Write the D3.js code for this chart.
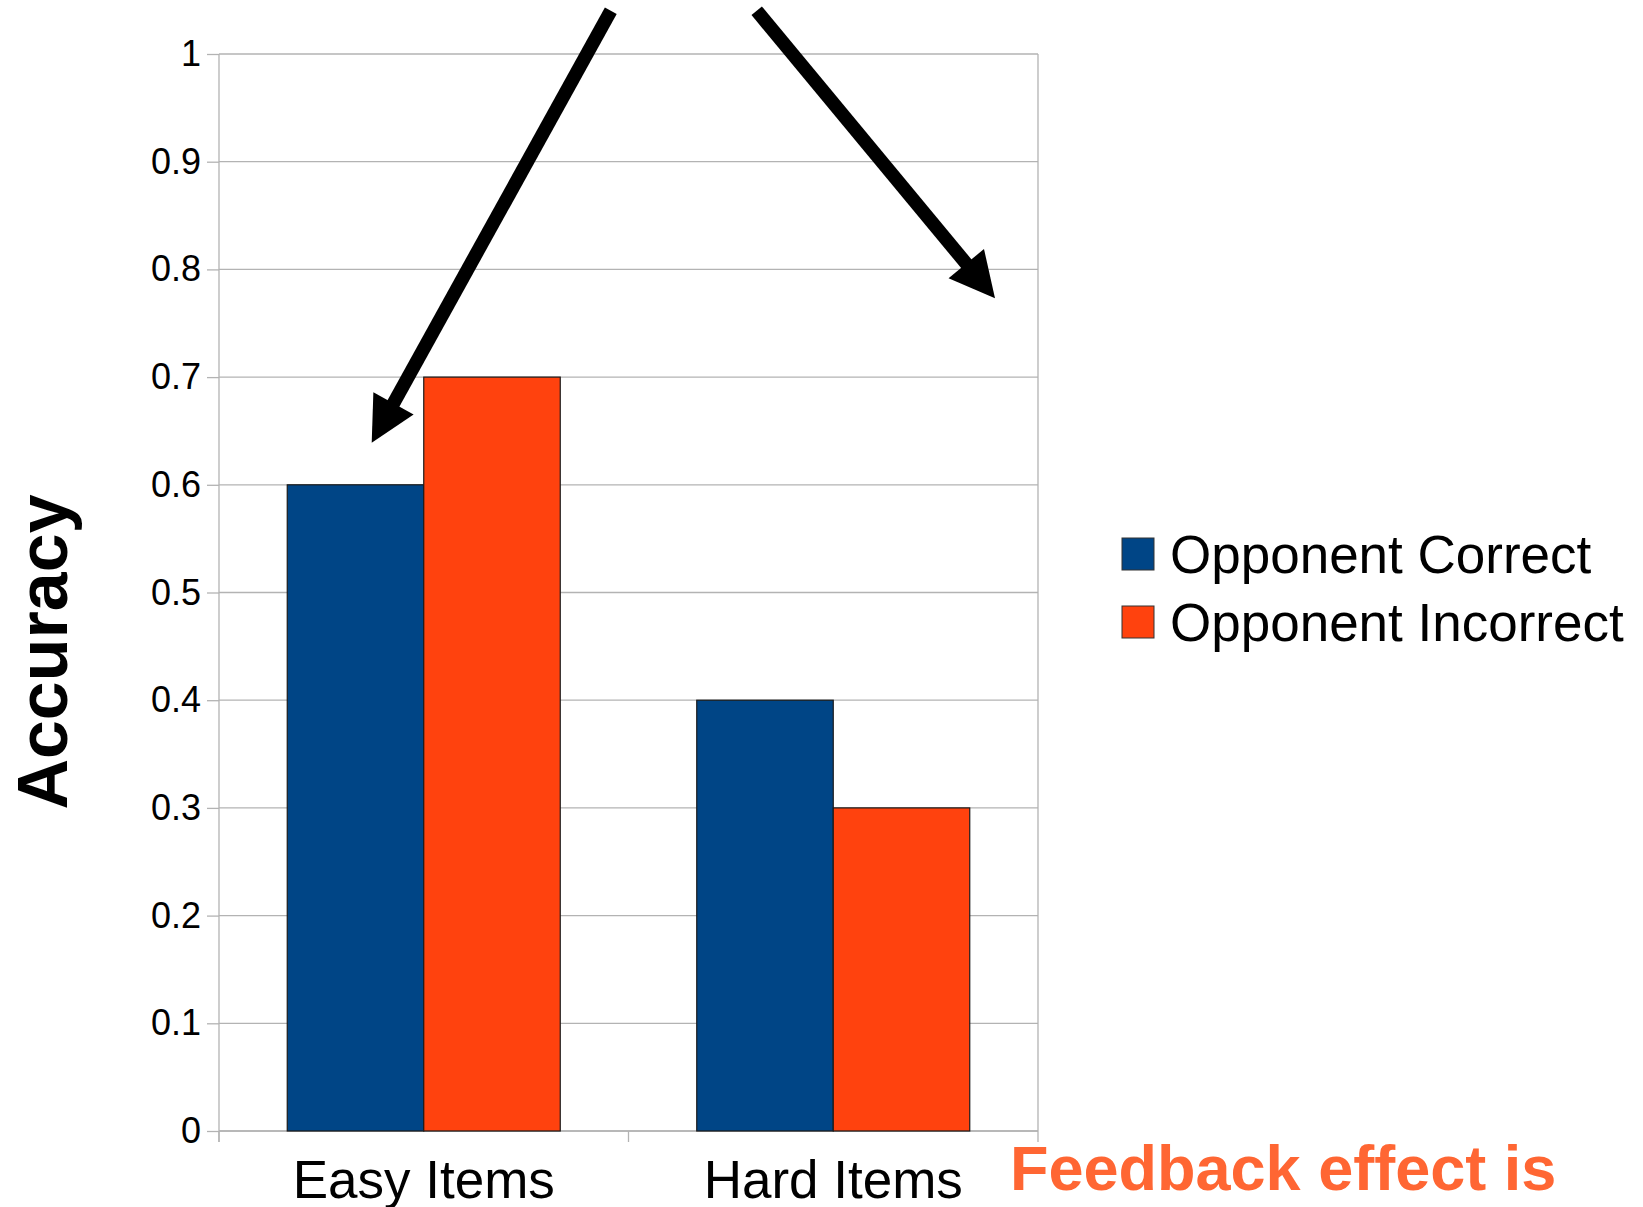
<!DOCTYPE html>
<html>
<head>
<meta charset="utf-8">
<script src="https://cdn.jsdelivr.net/npm/d3@7"></script>
<style>
  html, body { margin: 0; padding: 0; background: #fff; }
  svg { display: block; font-family: "Liberation Sans", Arial, sans-serif; }
</style>
</head>
<body>
<svg id="chart" width="1643" height="1207"></svg>
<script>
// Accuracy by item difficulty and opponent feedback
const categories = ["Easy Items", "Hard Items"];
const seriesNames = ["Opponent Correct", "Opponent Incorrect"];
const opponentCorrect = [0.6, 0.4];
const opponentIncorrect = [0.7, 0.3];
const yTicks = [0, 0.1, 0.2, 0.3, 0.4, 0.5, 0.6, 0.7, 0.8, 0.9, 1];
const colors = ["#004586", "#ff420e"];

const seriesValues = [opponentCorrect, opponentIncorrect];
const rows = categories.map((c, i) => ({
  category: c,
  values: seriesNames.map((s, j) => ({ series: s, value: seriesValues[j][i], idx: j }))
}));

const svg = d3.select("#chart");
const plot = { left: 219, right: 1038, top: 54, bottom: 1131 };

const x = d3.scaleBand().domain(categories).range([plot.left, plot.right]).paddingInner(0).paddingOuter(0);
const groupPad = x.bandwidth() / 6;
const xInner = d3.scaleBand().domain(seriesNames).range([groupPad, x.bandwidth() - groupPad]).padding(0);
const y = d3.scaleLinear().domain([0, 1]).range([plot.bottom, plot.top]);

const gridColor = "#b3b3b3";

// horizontal gridlines
svg.append("g")
  .selectAll("line")
  .data(yTicks)
  .join("line")
  .attr("x1", plot.left).attr("x2", plot.right)
  .attr("y1", d => y(d)).attr("y2", d => y(d))
  .attr("stroke", gridColor).attr("stroke-width", 1.3);

// right border of the plot area
svg.append("line")
  .attr("x1", plot.right).attr("x2", plot.right)
  .attr("y1", plot.top).attr("y2", plot.bottom)
  .attr("stroke", gridColor).attr("stroke-width", 1.3);

// y axis
const yAxis = d3.axisLeft(y)
  .tickValues(yTicks)
  .tickFormat(d => d3.format("")(+d.toFixed(1)))
  .tickSizeInner(12).tickSizeOuter(0).tickPadding(6);
const gy = svg.append("g").attr("transform", `translate(${plot.left},0)`).call(yAxis);
gy.select(".domain").attr("stroke", gridColor).attr("stroke-width", 1.3)
  .attr("d", `M0,${plot.top}V${plot.bottom + 11}`);
gy.selectAll(".tick line").attr("stroke", gridColor).attr("stroke-width", 1.3);
gy.selectAll(".tick text")
  .attr("font-size", 36).attr("fill", "#000")
  .attr("font-family", "Liberation Sans, Arial, sans-serif");

// x axis
const xAxis = d3.axisBottom(x).tickSize(0).tickPadding(0);
const gx = svg.append("g").attr("transform", `translate(0,${plot.bottom})`).call(xAxis);
gx.select(".domain").attr("stroke", gridColor).attr("stroke-width", 1.3)
  .attr("d", `M${plot.left},0H${plot.right}`);
gx.selectAll(".tick text")
  .attr("font-size", 53).attr("fill", "#000")
  .attr("font-family", "Liberation Sans, Arial, sans-serif")
  .attr("dy", null).attr("y", 67);
// category boundary marks
const bounds = [plot.left, ...categories.slice(1).map(c => x(c)), plot.right];
gx.append("g").selectAll("line")
  .data(bounds)
  .join("line")
  .attr("x1", d => d).attr("x2", d => d)
  .attr("y1", 0).attr("y2", 11)
  .attr("stroke", gridColor).attr("stroke-width", 1.3);

// bars
const groups = svg.append("g").selectAll("g")
  .data(rows)
  .join("g")
  .attr("transform", d => `translate(${x(d.category)},0)`);
groups.selectAll("rect")
  .data(d => d.values)
  .join("rect")
  .attr("x", d => xInner(d.series))
  .attr("width", xInner.bandwidth())
  .attr("y", d => y(d.value))
  .attr("height", d => y(0) - y(d.value))
  .attr("fill", d => colors[d.idx])
  .attr("stroke", "#1a1a1a").attr("stroke-width", 1.2);

// y axis title
svg.append("text")
  .attr("transform", "translate(67,652) rotate(-90)")
  .attr("text-anchor", "middle")
  .attr("font-size", 70).attr("font-weight", "bold")
  .attr("fill", "#000")
  .text("Accuracy");

// legend
const legend = svg.append("g").attr("transform", "translate(1122,538)");
const items = legend.selectAll("g")
  .data(seriesNames)
  .join("g")
  .attr("transform", (d, i) => `translate(0,${i * 68})`);
items.append("rect")
  .attr("width", 32).attr("height", 32)
  .attr("fill", (d, i) => colors[i])
  .attr("stroke", "#333").attr("stroke-width", 1);
items.append("text")
  .attr("x", 48).attr("y", 35)
  .attr("font-size", 53).attr("fill", "#000")
  .text(d => d);

// annotation arrows
const arrows = [
  { from: [610.8, 10.7], to: [371.7, 442.7] },
  { from: [756.7, 10.8], to: [995, 298.3] }
];
const unit = d => {
  const dx = d.to[0] - d.from[0], dy = d.to[1] - d.from[1];
  const L = Math.hypot(dx, dy);
  return [dx / L, dy / L];
};
svg.append("g").selectAll("line")
  .data(arrows)
  .join("line")
  .attr("x1", d => d.from[0]).attr("y1", d => d.from[1])
  .attr("x2", d => d.to[0] - unit(d)[0] * 30)
  .attr("y2", d => d.to[1] - unit(d)[1] * 30)
  .attr("stroke", "#000").attr("stroke-width", 13.5)
  .attr("stroke-linecap", "butt");
svg.append("g").selectAll("path")
  .data(arrows)
  .join("path")
  .attr("d", d => {
    const [ux, uy] = unit(d);
    const bx = d.to[0] - ux * 45, by = d.to[1] - uy * 45;
    const px = -uy * 23, py = ux * 23;
    return `M${d.to[0]},${d.to[1]}L${bx + px},${by + py}L${bx - px},${by - py}Z`;
  })
  .attr("fill", "#000");

// caption at lower right
svg.append("text")
  .attr("x", 1010).attr("y", 1190)
  .attr("font-size", 63).attr("font-weight", "bold")
  .attr("fill", "#ff6633")
  .text("Feedback effect is");
</script>
</body>
</html>
